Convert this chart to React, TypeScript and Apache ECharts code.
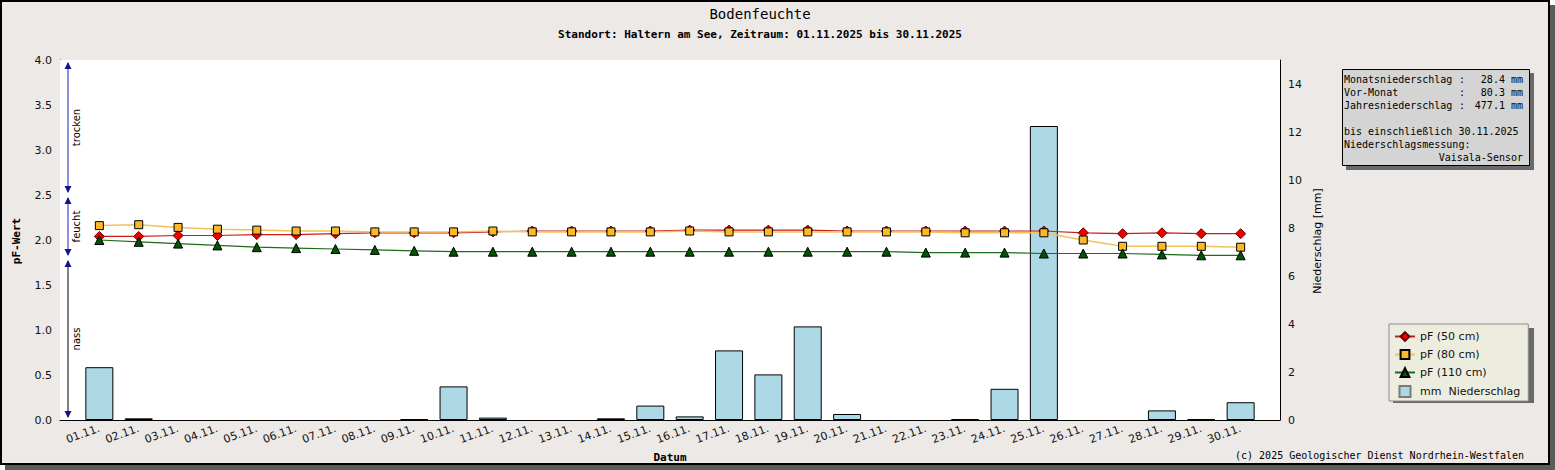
import React, { useEffect, useRef } from "react";
import * as echarts from "echarts";

const dates = [
  "01.11.", "02.11.", "03.11.", "04.11.", "05.11.", "06.11.", "07.11.", "08.11.", "09.11.", "10.11.",
  "11.11.", "12.11.", "13.11.", "14.11.", "15.11.", "16.11.", "17.11.", "18.11.", "19.11.", "20.11.",
  "21.11.", "22.11.", "23.11.", "24.11.", "25.11.", "26.11.", "27.11.", "28.11.", "29.11.", "30.11.",
];

const pf50 = [
  2.04, 2.04, 2.05, 2.05, 2.06, 2.06, 2.07, 2.08, 2.08, 2.08,
  2.09, 2.10, 2.10, 2.10, 2.10, 2.11, 2.11, 2.11, 2.11, 2.10,
  2.10, 2.10, 2.10, 2.10, 2.10, 2.08, 2.07, 2.08, 2.07, 2.07,
];

const pf80 = [
  2.16, 2.17, 2.14, 2.12, 2.11, 2.10, 2.10, 2.09, 2.09, 2.09,
  2.10, 2.09, 2.09, 2.09, 2.09, 2.10, 2.09, 2.09, 2.09, 2.09,
  2.09, 2.09, 2.08, 2.08, 2.08, 2.00, 1.93, 1.93, 1.93, 1.92,
];

const pf110 = [
  2.00, 1.98, 1.96, 1.94, 1.92, 1.91, 1.90, 1.89, 1.88, 1.87,
  1.87, 1.87, 1.87, 1.87, 1.87, 1.87, 1.87, 1.87, 1.87, 1.87,
  1.87, 1.86, 1.86, 1.86, 1.85, 1.85, 1.85, 1.84, 1.83, 1.83,
];

const rainMm = [
  2.2, 0.07, 0, 0, 0, 0, 0, 0, 0.04, 1.4,
  0.1, 0, 0, 0.07, 0.6, 0.15, 2.9, 1.9, 3.9, 0.25,
  0, 0, 0.03, 1.3, 12.25, 0, 0, 0.4, 0.03, 0.74,
];

const seriesNames = ["pF (50 cm)", "pF (80 cm)", "pF (110 cm)", "mm  Niederschlag"];

const zones = [
  { name: "trocken", from: 4.0, to: 2.5, line: "#2323b0" },
  { name: "feucht", from: 2.5, to: 1.8, line: "#2323b0" },
  { name: "nass", from: 1.8, to: 0.0, line: "#000000" },
];

const infoRows = [
  ["Monatsniederschlag", "28.4 mm"],
  ["Vor-Monat", "80.3 mm"],
  ["Jahresniederschlag", "477.1 mm"],
];
const infoNote = ["bis einschließlich 30.11.2025", "Niederschlagsmessung:"];
const infoSensor = "Vaisala-Sensor";

const titleText = "Bodenfeuchte";
const subtitleText = "Standort: Haltern am See, Zeitraum: 01.11.2025 bis 30.11.2025";
const copyrightText = "(c) 2025 Geologischer Dienst Nordrhein-Westfalen";

const MONO = "DejaVu Sans Mono";
const SANS = "DejaVu Sans";

function txt(
  x: number,
  y: number,
  text: string,
  o: { size?: number; family?: string; weight?: string; align?: string; rotation?: number; fill?: string; z?: number } = {}
) {
  const align = o.align || "left";
  return {
    type: "text",
    x,
    y,
    z: o.z ?? 20,
    rotation: o.rotation || 0,
    silent: true,
    style: {
      text,
      fill: o.fill || "#000",
      fontSize: o.size || 11,
      fontFamily: o.family || MONO,
      fontWeight: o.weight || "normal",
      align,
      textAlign: align,
      verticalAlign: "middle",
      textVerticalAlign: "middle",
    },
  };
}

export default function App() {
  const ref = useRef<HTMLDivElement>(null);

  useEffect(() => {
    if (!ref.current) return;
    const chart = echarts.init(ref.current, null, { renderer: "svg" });

    const option: any = {
      animation: false,
      backgroundColor: "transparent",
      grid: {
        left: 60,
        top: 60,
        width: 1220,
        height: 360,
        show: true,
        backgroundColor: "#ffffff",
        borderWidth: 0,
        z: 1,
      },
      xAxis: {
        type: "value",
        min: 0,
        max: 31,
        interval: 1,
        axisLine: { show: true, onZero: false, lineStyle: { color: "#000", width: 1 } },
        axisTick: { show: true, inside: true, length: 5, lineStyle: { color: "#000" } },
        axisLabel: {
          rotate: 20,
          margin: 8,
          fontSize: 11,
          fontFamily: SANS,
          color: "#111",
          showMinLabel: true,
          showMaxLabel: true,
          formatter: (v: number) => (v >= 1 && v <= dates.length ? dates[v - 1] : ""),
        },
        splitLine: { show: false },
      },
      yAxis: [
        {
          type: "value",
          position: "left",
          min: 0,
          max: 4,
          interval: 0.5,
          axisLine: { show: true, lineStyle: { color: "#000", width: 1 } },
          axisTick: { show: true, inside: true, length: 5, lineStyle: { color: "#000" } },
          minorTick: { show: true, splitNumber: 5, length: 3, lineStyle: { color: "#000" } },
          axisLabel: {
            margin: 8,
            fontSize: 11,
            fontFamily: SANS,
            color: "#111",
            formatter: (v: number) => v.toFixed(1),
          },
          splitLine: { show: true, lineStyle: { color: "#c9c9c9", width: 1 } },
        },
        {
          type: "value",
          position: "right",
          min: 0,
          max: 15,
          interval: 1,
          alignTicks: false,
          axisLine: { show: true, lineStyle: { color: "#000", width: 1 } },
          axisTick: { show: true, inside: true, length: 4, lineStyle: { color: "#000" } },
          axisLabel: {
            margin: 8,
            fontSize: 11,
            fontFamily: SANS,
            color: "#111",
            formatter: (v: number) => (v % 2 === 0 && v < 15 ? String(v) : ""),
          },
          splitLine: { show: false },
        },
      ],
      legend: {
        orient: "vertical",
        left: 1389,
        top: 324,
        backgroundColor: "#ededdf",
        borderColor: "#8c8c8c",
        borderWidth: 1,
        padding: [7, 8, 3, 5],
        itemGap: 7,
        itemWidth: 20,
        itemHeight: 11,
        selectedMode: false,
        textStyle: { fontFamily: SANS, fontSize: 11, color: "#111" },
        data: [
          { name: seriesNames[0] },
          { name: seriesNames[1] },
          { name: seriesNames[2] },
          { name: seriesNames[3], icon: "path://M0,0H10V10H0Z", itemStyle: { borderColor: "#7a7a7a" } },
        ],
      },
      series: [
        {
          name: seriesNames[3],
          type: "bar",
          yAxisIndex: 1,
          barWidth: 28,
          itemStyle: { color: "#add8e6", borderColor: "#000", borderWidth: 1 },
          data: rainMm.map((v, i) => [i + 1, v > 0 ? v : "-"]),
        },
        {
          name: seriesNames[0],
          type: "line",
          yAxisIndex: 0,
          symbol: "diamond",
          symbolSize: 10,
          showAllSymbol: true,
          lineStyle: { color: "#cc1c1c", width: 1.2 },
          itemStyle: { color: "#ee0000", borderColor: "#6a0000", borderWidth: 1 },
          data: pf50.map((v, i) => [i + 1, v]),
        },
        {
          name: seriesNames[1],
          type: "line",
          yAxisIndex: 0,
          symbol: "rect",
          symbolSize: 8,
          showAllSymbol: true,
          lineStyle: { color: "#f2c35a", width: 1.5 },
          itemStyle: { color: "#fbb829", borderColor: "#000", borderWidth: 1 },
          data: pf80.map((v, i) => [i + 1, v]),
        },
        {
          name: seriesNames[2],
          type: "line",
          yAxisIndex: 0,
          symbol: "triangle",
          symbolSize: 9,
          showAllSymbol: true,
          lineStyle: { color: "#1d6b1d", width: 1.2 },
          itemStyle: { color: "#005500", borderColor: "#000", borderWidth: 1 },
          data: pf110.map((v, i) => [i + 1, v]),
        },
      ],
    };

    chart.setOption(option);

    const elements: any[] = [];
    // page frame + shadow
    elements.push({ type: "rect", z: -20, silent: true, shape: { x: 5, y: 5, width: 1550, height: 465 }, style: { fill: "#5c5c5c" } });
    elements.push({ type: "rect", z: -19, silent: true, shape: { x: 1, y: 1, width: 1548, height: 463 }, style: { fill: "#ece9e7", stroke: "#000", lineWidth: 2 } });

    // titles
    elements.push(txt(760, 14, titleText, { size: 14, family: MONO, align: "center" }));
    elements.push(txt(760, 34, subtitleText, { size: 11, family: MONO, weight: "bold", align: "center" }));

    // axis names
    elements.push(txt(16, 241, "pF-Wert", { size: 11, family: MONO, weight: "bold", rotation: Math.PI / 2, align: "center" }));
    elements.push(txt(670, 457, "Datum", { size: 11, family: MONO, weight: "bold", align: "center" }));
    elements.push(txt(1317, 241, "Niederschlag [mm]", { size: 11, family: SANS, rotation: Math.PI / 2, align: "center" }));

    // copyright
    elements.push(txt(1524, 455, copyrightText, { size: 10, family: MONO, align: "right" }));

    // info box
    elements.push({ type: "rect", z: 15, silent: true, shape: { x: 1346, y: 73, width: 188, height: 97 }, style: { fill: "#6a6a6a" } });
    elements.push({ type: "rect", z: 16, silent: true, shape: { x: 1342.5, y: 69.5, width: 187, height: 96 }, style: { fill: "#d4d4d4", stroke: "#000", lineWidth: 1 } });
    infoRows.forEach((row, i) => {
      const y = 79 + i * 13;
      elements.push(txt(1344, y, row[0], { size: 10 }));
      elements.push(txt(1459, y, ":", { size: 10 }));
      elements.push(txt(1523, y, row[1], { size: 10, align: "right" }));
    });
    infoNote.forEach((t, i) => {
      elements.push(txt(1344, 131 + i * 13, t, { size: 10 }));
    });
    elements.push(txt(1523, 157, infoSensor, { size: 10, align: "right" }));

    // legend shadow
    elements.push({ type: "rect", z: 2, silent: true, shape: { x: 1393, y: 328, width: 141, height: 75 }, style: { fill: "#6a6a6a" } });

    // moisture zones (arrows at left)
    const x0 = (chart.convertToPixel({ xAxisIndex: 0 } as any, 0) as number) + 8;
    zones.forEach((zn) => {
      const yTop = (chart.convertToPixel({ yAxisIndex: 0 } as any, zn.from) as number) + 2;
      const yBot = (chart.convertToPixel({ yAxisIndex: 0 } as any, zn.to) as number) - 2;
      elements.push({ type: "line", z: 10, silent: true, shape: { x1: x0, y1: yTop + 1, x2: x0, y2: yBot - 1 }, style: { stroke: zn.line, lineWidth: 1 } });
      elements.push({ type: "polygon", z: 11, silent: true, shape: { points: [[x0, yTop], [x0 - 3.5, yTop + 7], [x0 + 3.5, yTop + 7]] }, style: { fill: "#14148c" } });
      elements.push({ type: "polygon", z: 11, silent: true, shape: { points: [[x0, yBot], [x0 - 3.5, yBot - 7], [x0 + 3.5, yBot - 7]] }, style: { fill: "#14148c" } });
      elements.push(txt(x0 + 8, (yTop + yBot) / 2, zn.name, { size: 10, family: SANS, rotation: Math.PI / 2, align: "center", z: 12 }));
    });

    chart.setOption({ graphic: { elements } });

    return () => {
      chart.dispose();
    };
  }, []);

  return (
    <div
      ref={ref}
      style={{ position: "absolute", left: 0, top: 0, width: 1555, height: 470 }}
    />
  );
}
